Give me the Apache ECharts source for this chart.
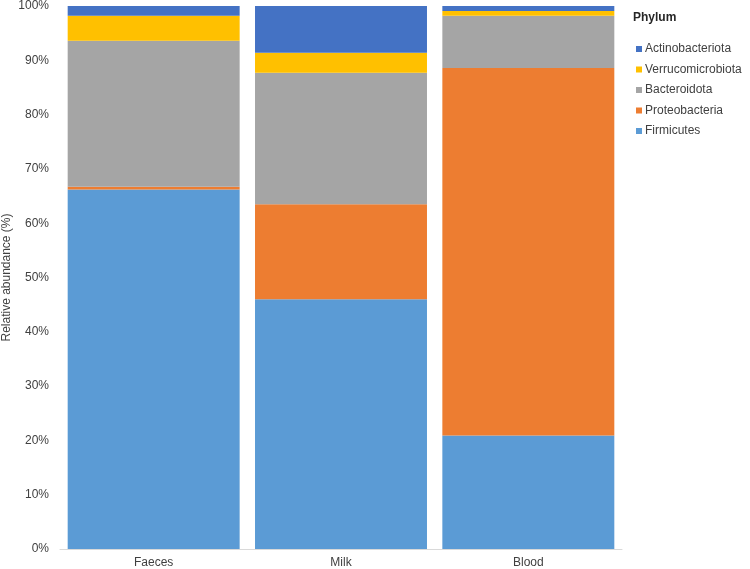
<!DOCTYPE html>
<html>
<head>
<meta charset="utf-8">
<script src="https://cdn.jsdelivr.net/npm/echarts@6/dist/echarts.min.js"></script>
<style>html,body{margin:0;padding:0;background:#fff}#c{width:750px;height:569px}</style>
</head>
<body>
<div id="c"></div>
<script>
const categories = ['Faeces', 'Milk', 'Blood'];
const firmicutes = [66.2, 46.0, 20.9];
const proteobacteria = [0.5, 17.5, 67.7];
const bacteroidota = [26.9, 24.2, 9.6];
const verrucomicrobiota = [4.6, 3.7, 0.9];
const actinobacteriota = [1.8, 8.6, 0.9];
const yTicks = [0, 10, 20, 30, 40, 50, 60, 70, 80, 90, 100];

const seriesDefs = [
  ['Firmicutes', firmicutes, '#5B9BD5'],
  ['Proteobacteria', proteobacteria, '#ED7D31'],
  ['Bacteroidota', bacteroidota, '#A5A5A5'],
  ['Verrucomicrobiota', verrucomicrobiota, '#FFC000'],
  ['Actinobacteriota', actinobacteriota, '#4472C4']
];

const chart = echarts.init(document.getElementById('c'), null, {renderer: 'canvas'});
const font = 'Liberation Sans, Arial, sans-serif';
chart.setOption({
  animation: false,
  textStyle: {fontFamily: font},
  title: {
    text: 'Phylum', left: 628, top: 7,
    textStyle: {fontFamily: font, fontSize: 12, fontWeight: 'bold', color: '#262626'}
  },
  legend: {
    orient: 'vertical', left: 631, top: 37,
    data: ['Actinobacteriota', 'Verrucomicrobiota', 'Bacteroidota', 'Proteobacteria', 'Firmicutes'],
    icon: 'rect', itemWidth: 6, itemHeight: 6, itemGap: 6.5,
    textStyle: {fontFamily: font, fontSize: 12, color: '#404040', lineHeight: 14, padding: [0, 0, 0, -2]}
  },
  grid: {left: 60, right: 128, top: 6, bottom: 20, containLabel: false, outerBoundsMode: 'none'},
  xAxis: {
    type: 'category', data: categories,
    axisLine: {lineStyle: {color: '#D9D9D9', width: 1}},
    axisTick: {show: false},
    axisLabel: {color: '#404040', fontSize: 12, fontFamily: font, margin: 8}
  },
  yAxis: {
    type: 'value', min: yTicks[0], max: yTicks[yTicks.length - 1], interval: 10,
    name: 'Relative abundance (%)', nameLocation: 'middle', nameGap: 47, nameMoveOverlap: false,
    nameTextStyle: {color: '#404040', fontSize: 12, fontFamily: font},
    axisLine: {show: false}, axisTick: {show: false}, splitLine: {show: false},
    axisLabel: {color: '#404040', fontSize: 12, fontFamily: font, margin: 11, formatter: v => v + '%'}
  },
  series: seriesDefs.map(([name, data, color]) => ({
    name, type: 'bar', stack: 'total', data,
    barCategoryGap: '8.2%',
    itemStyle: {color}
  }))
});
</script>
</body>
</html>
